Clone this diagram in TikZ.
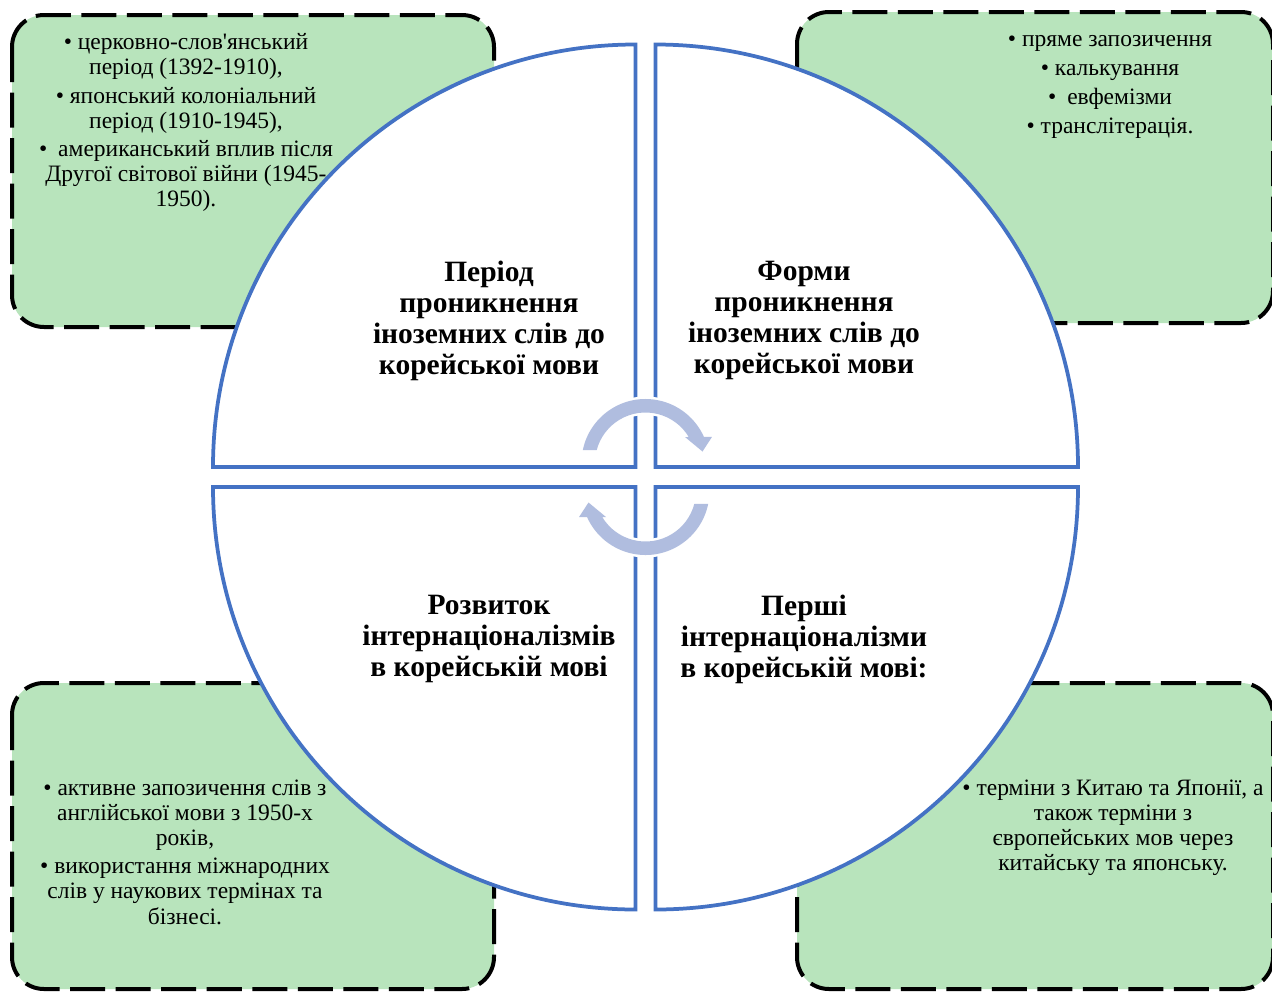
\documentclass[tikz,border=0pt]{standalone}
\usepackage{fontspec}
\setmainfont{Liberation Serif}[Ligatures=TeXOff]
\definecolor{boxgreen}{RGB}{184,228,188}
\definecolor{quadblue}{RGB}{68,114,196}
\definecolor{arrowblue}{RGB}{176,189,223}
\tikzset{
  gbox/.style={fill=boxgreen, draw=black, line width=4, dash pattern=on 35 off 10.5, rounded corners=32},
  quad/.style={fill=white, draw=quadblue, line width=3.75, line join=miter},
  title/.style={font=\bfseries\fontsize{29.5}{31}\selectfont, align=center, inner sep=0, anchor=north},
  body/.style={font=\fontsize{23.5}{25.2}\selectfont, align=center, inner sep=0, anchor=north},
  cyclearrow/.pic={
    \fill[arrowblue, preaction={draw=white, line width=5, line join=round}]
      ([shift={(0,14)}]168.3:64) arc[start angle=168.3, end angle=24, radius=64]
      -- ++(8,0) -- (57,25.5) -- (39.5,40)
      -- ([shift={(0,14)}]31:50.5) arc[start angle=31, end angle=165.1, radius=50.5]
      -- cycle;
  }
}
\begin{document}
\begin{tikzpicture}[x=1pt,y=1pt]
\useasboundingbox (0,0) rectangle (1272,-991);
% green boxes
\draw[gbox] (12,-15) rectangle (494,-327);
\draw[gbox] (797,-12) rectangle (1273,-323);
\draw[gbox] (12,-683) rectangle (494,-989);
\draw[gbox] (797,-683) rectangle (1273,-989);
% quadrants
\draw[quad] (635.5,-467) -- (213,-467) arc[start angle=180, end angle=90, radius=422.5] -- cycle;
\draw[quad] (655.5,-467) -- (1078,-467) arc[start angle=0, end angle=90, radius=422.5] -- cycle;
\draw[quad] (635.5,-487) -- (213,-487) arc[start angle=180, end angle=270, radius=422.5] -- cycle;
\draw[quad] (655.5,-487) -- (1078,-487) arc[start angle=0, end angle=-90, radius=422.5] -- cycle;
% cycle arrows
\pic (arrtop) at (645.5,-477) {cyclearrow};
\pic[rotate=180] (arrbot) at (645.5,-477) {cyclearrow};
% titles
\node[title] (t1) at (489,-261) {Період\\проникнення\\іноземних слів до\\корейської мови};
\node[title] (t2) at (804,-261) {Форми\\проникнення\\іноземних слів до\\корейської мови};
\node[title] (t3) at (489,-594.6) {Розвиток\\інтернаціоналізмів\\в корейській мові};
\node[title] (t4) at (804,-594.6) {Перші\\інтернаціоналізми\\в корейській мові:};
% box texts
\node[body] (b1) at (186,-31.8) {\strut• церковно-слов'янський\\період (1392-1910),\\[3pt]• японський колоніальний\\період (1910-1945),\\[3pt]•\hspace{11pt}американський вплив після\\Другої світової війни (1945-\\1950).};
\node[body] (b2) at (1110,-28.3) {\strut• пряме запозичення\\[4pt]• калькування\\[4pt]•\hspace{11pt}евфемізми\\[4pt]• транслітерація.};
\node[body] (b3) at (185,-777.3) {\strut• активне запозичення слів з\\англійської мови з 1950-х\\років,\\[3pt]• використання міжнародних\\слів у наукових термінах та\\бізнесі.};
\node[body] (b4) at (1113,-777.3) {\strut• терміни з Китаю та Японії, а\\також терміни з\\європейських мов через\\китайську та японську.};
\end{tikzpicture}
\end{document}
